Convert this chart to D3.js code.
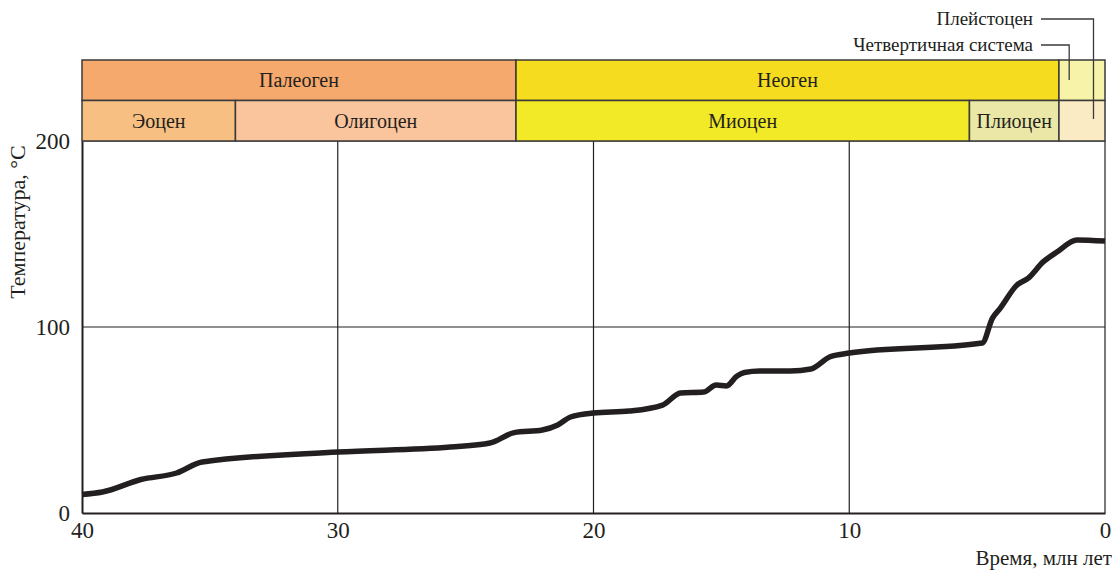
<!DOCTYPE html>
<html>
<head>
<meta charset="utf-8">
<script src="https://cdn.jsdelivr.net/npm/d3@7"></script>
<style>
  body { margin: 0; background: #fff; }
  text { font-family: "Liberation Serif", "Tinos", "DejaVu Serif", serif; fill: #231f20; }
</style>
</head>
<body>
<svg id="chart" width="1119" height="572"></svg>
<script>
// time in Ma, temperature in degrees C
let ages  = [40, 39.2, 37.7, 36.3, 35.3, 30, 25.6, 24.05, 23.1, 22, 21.4, 20.9, 20, 18.6, 17.3, 16.6, 15.7, 15.2, 14.8, 14.4, 14.1, 13.5, 12.3, 11.5, 10.75, 10, 4.8, 4.4, 4.1, 3.44, 3.0, 2.42, 1.88, 1.1, 0];
let temps = [10, 11.3, 18, 21.5, 27.4, 32.8, 35.5, 37.6, 43.2, 44.6, 47.3, 51.6, 53.8, 54.8, 58, 64.5, 65, 68.8, 68.3, 73.5, 75.5, 76.3, 76.3, 77.4, 84, 86, 91.4, 104.8, 110, 122.6, 126.3, 135, 140.3, 146.8, 146.2];

let xTicks = [40, 30, 20, 10, 0];
let yTicks = [0, 100, 200];

// stratigraphy: [name, from, to, colour]
let periods = [
  ["Палеоген", 40, 23.03, "#f5a96c"],
  ["Неоген", 23.03, 1.8, "#f5dc1f"],
  ["", 1.8, 0, "#f7f3a8"]
];
let epochs = [
  ["Эоцен", 40, 34, "#f7c082"],
  ["Олигоцен", 34, 23.03, "#fac49c"],
  ["Миоцен", 23.03, 5.3, "#f2ea26"],
  ["Плиоцен", 5.3, 1.8, "#ebe8a7"],
  ["", 1.8, 0, "#faebc4"]
];

let serif = '"Liberation Serif", "Tinos", "DejaVu Serif", serif';
let margin = { top: 141, left: 82, right: 14, bottom: 59 };
let width = 1119, height = 572;
let bodyWidth = width - margin.left - margin.right;
let bodyHeight = height - margin.top - margin.bottom;

let svg = d3.select("#chart");
let g = svg.append("g").attr("transform", "translate(" + margin.left + "," + margin.top + ")");

let xScale = d3.scaleLinear().domain([40, 0]).range([0, bodyWidth]);
let yScale = d3.scaleLinear().domain([0, 200]).range([bodyHeight, 0]);

// grid
g.selectAll(".vgrid").data([30, 20, 10, 0]).enter().append("line")
  .attr("x1", d => xScale(d)).attr("x2", d => xScale(d))
  .attr("y1", 0).attr("y2", bodyHeight)
  .attr("stroke", "#231f20").attr("stroke-width", 1.2);
g.selectAll(".hgrid").data([100, 200]).enter().append("line")
  .attr("x1", 0).attr("x2", bodyWidth)
  .attr("y1", d => yScale(d)).attr("y2", d => yScale(d))
  .attr("stroke", "#231f20").attr("stroke-width", 1.2);

// axes
let xAxis = g.append("g").attr("transform", "translate(0," + bodyHeight + ")")
  .call(d3.axisBottom(xScale).tickValues(xTicks).tickSize(0).tickPadding(9));
let yAxis = g.append("g")
  .call(d3.axisLeft(yScale).tickValues(yTicks).tickSize(0).tickPadding(12));
[xAxis, yAxis].forEach(a => {
  a.attr("font-family", serif).attr("font-size", 23);
  a.select(".domain").attr("stroke", "#231f20").attr("stroke-width", 2);
  a.selectAll("text").attr("fill", "#231f20");
});

// bands
let bandH = 40.5;
function drawBand(data, y0) {
  let b = g.append("g").attr("transform", "translate(0," + y0 + ")");
  b.selectAll("rect").data(data).enter().append("rect")
    .attr("x", d => xScale(d[1]))
    .attr("width", d => xScale(d[2]) - xScale(d[1]))
    .attr("y", 0).attr("height", bandH)
    .attr("fill", d => d[3])
    .attr("stroke", "#3a3a3a").attr("stroke-width", 1.5);
  b.selectAll("text").data(data).enter().append("text")
    .attr("x", d => (xScale(d[1]) + xScale(d[2])) / 2)
    .attr("y", bandH / 2 + 7)
    .attr("text-anchor", "middle")
    .style("font-size", "20px")
    .text(d => d[0]);
}
drawBand(periods, -2 * bandH);
drawBand(epochs, -bandH);

// curve
let line = d3.line()
  .x((d, i) => xScale(ages[i]))
  .y((d, i) => yScale(temps[i]))
  .curve(d3.curveMonotoneX);
g.append("path").datum(temps)
  .attr("d", line)
  .attr("fill", "none")
  .attr("stroke", "#231f20")
  .attr("stroke-width", 5.5)
  .attr("stroke-linejoin", "round");

// labels
svg.append("text")
  .attr("transform", "translate(25,222) rotate(-90)")
  .attr("text-anchor", "middle")
  .style("font-size", "22px")
  .text("Температура, °C");
svg.append("text")
  .attr("x", 1112).attr("y", 565)
  .attr("text-anchor", "end")
  .style("font-size", "21px")
  .text("Время, млн лет");

// callouts for Quaternary / Pleistocene
let callouts = [
  ["Плейстоцен", 19, xScale(0.45) + margin.left, 119],
  ["Четвертичная система", 45, xScale(1.4) + margin.left, 80]
];
callouts.forEach(c => {
  svg.append("text").attr("x", 1033).attr("y", c[1] + 6)
    .attr("text-anchor", "end").style("font-size", "19px").text(c[0]);
  svg.append("path")
    .attr("d", "M1041," + c[1] + "H" + c[2] + "V" + c[3])
    .attr("fill", "none").attr("stroke", "#3a3a3a").attr("stroke-width", 1.3);
});
</script>
</body>
</html>
